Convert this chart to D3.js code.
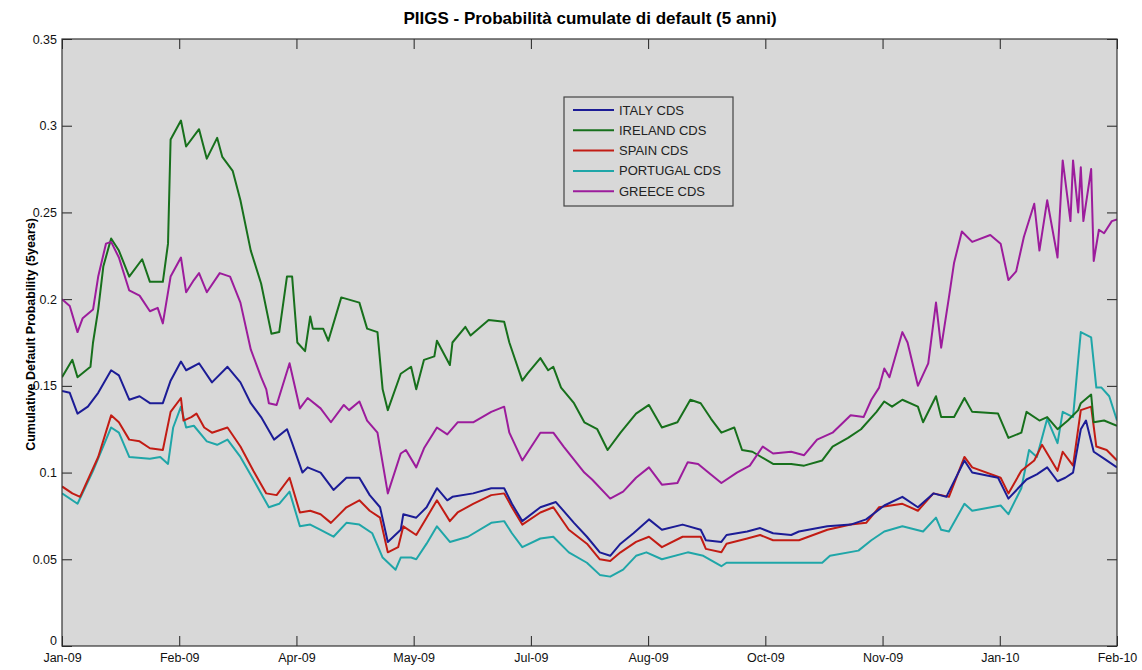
<!DOCTYPE html>
<html>
<head>
<meta charset="utf-8">
<script src="https://cdn.jsdelivr.net/npm/d3@7"></script>
<style>
  body { margin: 0; background: #fff; }
  svg { font-family: "Liberation Sans", Arial, sans-serif; }
</style>
</head>
<body>
<div id="chart"></div>
<script>
// giorni dall'inizio (01/01/2009) e probabilità cumulate
const TICK_LABELS = ["Jan-09", "Feb-09", "Apr-09", "May-09", "Jul-09", "Aug-09", "Oct-09", "Nov-09", "Jan-10", "Feb-10"];
const Y_TICKS = [0, 0.05, 0.1, 0.15, 0.2, 0.25, 0.3, 0.35];
const DAY_MAX = 408;

const ITALY = [[0,0.147],[3,0.146],[6,0.134],[10,0.138],[14,0.146],[19,0.159],[22,0.156],[26,0.142],[30,0.144],[34,0.140],[39,0.140],[42,0.153],[46,0.164],[48,0.159],[53,0.163],[58,0.152],[64,0.161],[69,0.152],[73,0.140],[77,0.132],[82,0.119],[87,0.125],[89,0.117],[93,0.100],[95,0.103],[100,0.100],[105,0.090],[110,0.097],[115,0.097],[119,0.087],[123,0.080],[126,0.060],[131,0.067],[132,0.076],[137,0.074],[141,0.080],[145,0.091],[149,0.084],[151,0.086],[159,0.088],[166,0.091],[171,0.091],[174,0.082],[178,0.072],[185,0.080],[191,0.083],[198,0.071],[203,0.063],[208,0.054],[212,0.052],[216,0.059],[221,0.065],[227,0.073],[232,0.067],[240,0.070],[247,0.067],[249,0.061],[255,0.060],[257,0.064],[265,0.066],[270,0.068],[275,0.065],[282,0.064],[285,0.066],[296,0.069],[305,0.070],[311,0.073],[318,0.081],[325,0.086],[331,0.080],[337,0.088],[342,0.086],[349,0.107],[352,0.100],[362,0.097],[366,0.085],[373,0.096],[377,0.099],[381,0.103],[385,0.095],[388,0.097],[391,0.100],[394,0.125],[396,0.130],[399,0.112],[403,0.108],[408,0.103]];

const IRELAND = [[0,0.155],[4,0.165],[6,0.155],[11,0.161],[12,0.175],[14,0.194],[16,0.219],[19,0.235],[22,0.228],[26,0.213],[31,0.223],[34,0.210],[39,0.210],[41,0.232],[42,0.292],[46,0.303],[48,0.288],[53,0.298],[56,0.281],[60,0.293],[62,0.282],[66,0.274],[69,0.257],[73,0.228],[77,0.209],[81,0.180],[84,0.181],[87,0.213],[89,0.213],[91,0.175],[94,0.170],[96,0.190],[97,0.183],[101,0.183],[103,0.176],[108,0.201],[115,0.198],[118,0.183],[122,0.181],[124,0.148],[126,0.136],[131,0.157],[135,0.161],[137,0.148],[140,0.165],[144,0.167],[145,0.176],[150,0.162],[151,0.175],[156,0.184],[158,0.179],[165,0.188],[171,0.187],[173,0.175],[178,0.153],[180,0.157],[185,0.166],[188,0.159],[190,0.161],[193,0.149],[198,0.140],[202,0.129],[207,0.125],[211,0.113],[216,0.123],[222,0.134],[227,0.139],[232,0.126],[238,0.129],[243,0.142],[247,0.140],[251,0.131],[255,0.123],[260,0.126],[263,0.113],[267,0.112],[275,0.105],[282,0.105],[287,0.104],[294,0.107],[298,0.115],[304,0.120],[309,0.125],[315,0.135],[318,0.141],[321,0.138],[325,0.142],[331,0.138],[333,0.129],[338,0.144],[340,0.132],[345,0.132],[349,0.143],[352,0.135],[362,0.134],[366,0.120],[371,0.123],[373,0.135],[378,0.130],[381,0.132],[385,0.125],[389,0.130],[393,0.136],[394,0.140],[398,0.145],[399,0.129],[403,0.130],[408,0.127]];

const SPAIN = [[0,0.092],[4,0.088],[7,0.086],[14,0.109],[19,0.133],[22,0.129],[26,0.119],[30,0.118],[34,0.114],[39,0.113],[42,0.135],[46,0.143],[47,0.130],[50,0.132],[52,0.134],[55,0.126],[58,0.123],[64,0.126],[69,0.115],[74,0.101],[79,0.088],[83,0.087],[88,0.097],[92,0.077],[96,0.078],[100,0.076],[104,0.071],[110,0.080],[115,0.084],[119,0.078],[123,0.074],[126,0.054],[130,0.057],[132,0.069],[137,0.064],[141,0.074],[145,0.084],[150,0.072],[153,0.077],[159,0.082],[166,0.087],[171,0.088],[174,0.080],[178,0.070],[185,0.077],[190,0.080],[196,0.067],[203,0.059],[208,0.050],[212,0.049],[216,0.054],[222,0.060],[227,0.063],[232,0.057],[240,0.063],[247,0.063],[249,0.056],[255,0.054],[257,0.059],[265,0.062],[270,0.064],[275,0.061],[282,0.061],[285,0.061],[296,0.067],[305,0.070],[311,0.071],[316,0.080],[325,0.082],[331,0.078],[337,0.088],[343,0.086],[349,0.109],[352,0.103],[363,0.097],[366,0.088],[371,0.101],[376,0.107],[379,0.116],[385,0.101],[387,0.112],[391,0.104],[394,0.136],[398,0.138],[400,0.115],[404,0.113],[408,0.107]];

const PORTUGAL = [[0,0.088],[6,0.082],[12,0.101],[19,0.126],[22,0.123],[26,0.109],[34,0.108],[38,0.109],[41,0.105],[43,0.126],[46,0.138],[48,0.126],[51,0.127],[56,0.118],[60,0.116],[64,0.119],[69,0.109],[74,0.096],[80,0.080],[84,0.082],[88,0.089],[92,0.069],[96,0.070],[100,0.067],[105,0.063],[110,0.071],[115,0.070],[120,0.065],[124,0.051],[129,0.044],[131,0.051],[135,0.051],[137,0.050],[141,0.059],[145,0.069],[150,0.060],[157,0.063],[166,0.071],[171,0.072],[174,0.065],[178,0.057],[185,0.062],[190,0.063],[196,0.054],[203,0.048],[208,0.041],[212,0.040],[217,0.044],[222,0.052],[226,0.054],[232,0.050],[242,0.054],[248,0.052],[255,0.046],[257,0.048],[267,0.048],[282,0.048],[294,0.048],[297,0.052],[308,0.055],[313,0.061],[318,0.066],[325,0.069],[333,0.066],[338,0.074],[340,0.067],[343,0.066],[349,0.082],[352,0.078],[363,0.081],[366,0.076],[371,0.091],[374,0.113],[377,0.109],[381,0.131],[385,0.117],[387,0.135],[391,0.132],[393,0.165],[394,0.181],[398,0.178],[400,0.149],[402,0.149],[405,0.144],[408,0.130]];

const GREECE = [[0,0.200],[3,0.196],[6,0.181],[8,0.189],[12,0.194],[14,0.213],[17,0.232],[19,0.233],[22,0.224],[26,0.205],[30,0.202],[34,0.193],[37,0.195],[39,0.186],[42,0.213],[46,0.224],[48,0.204],[51,0.211],[53,0.215],[56,0.204],[61,0.215],[65,0.213],[69,0.198],[73,0.171],[77,0.155],[79,0.148],[80,0.140],[83,0.139],[88,0.163],[92,0.137],[95,0.143],[100,0.137],[104,0.129],[109,0.139],[111,0.136],[115,0.141],[118,0.130],[122,0.123],[126,0.088],[131,0.111],[133,0.113],[137,0.103],[140,0.114],[145,0.126],[149,0.122],[153,0.129],[159,0.129],[166,0.135],[171,0.138],[173,0.123],[178,0.107],[185,0.123],[190,0.123],[194,0.115],[202,0.100],[205,0.096],[212,0.085],[217,0.089],[222,0.097],[227,0.103],[232,0.093],[238,0.094],[242,0.106],[246,0.105],[250,0.100],[255,0.094],[261,0.100],[266,0.104],[271,0.115],[275,0.111],[282,0.112],[287,0.110],[292,0.119],[298,0.123],[305,0.133],[310,0.132],[313,0.142],[316,0.149],[318,0.160],[320,0.155],[325,0.181],[327,0.175],[331,0.150],[335,0.163],[338,0.198],[340,0.172],[343,0.201],[345,0.221],[348,0.239],[352,0.233],[359,0.237],[363,0.232],[366,0.211],[369,0.216],[372,0.236],[376,0.255],[378,0.228],[381,0.257],[385,0.224],[387,0.280],[390,0.245],[391,0.280],[393,0.250],[394,0.276],[395,0.245],[398,0.275],[399,0.222],[401,0.240],[403,0.238],[406,0.245],[408,0.246]];

const SERIES = [
    { nome: "ITALY CDS", valori: ITALY, colore: "#1c1c96" },
    { nome: "IRELAND CDS", valori: IRELAND, colore: "#17701c" },
    { nome: "SPAIN CDS", valori: SPAIN, colore: "#c21c14" },
    { nome: "PORTUGAL CDS", valori: PORTUGAL, colore: "#1fa6a8" },
    { nome: "GREECE CDS", valori: GREECE, colore: "#9c1c9c" }
];
// ordine di disegno (dal basso verso l'alto)
const ORDINE = ["PORTUGAL CDS", "SPAIN CDS", "ITALY CDS", "IRELAND CDS", "GREECE CDS"];

const WIDTH = 1142;
const HEIGHT = 670;
const MARGIN = { top: 39, right: 25, bottom: 24, left: 62 };
const innerW = WIDTH - MARGIN.left - MARGIN.right;
const innerH = HEIGHT - MARGIN.top - MARGIN.bottom;

const svg = d3.select("#chart").append("svg")
    .attr("width", WIDTH)
    .attr("height", HEIGHT);

const x = d3.scaleLinear().domain([0, DAY_MAX]).range([0, innerW]);
const y = d3.scaleLinear().domain([0, 0.35]).range([innerH, 0]);
const xTicks = TICK_LABELS.map((d, i) => i * DAY_MAX / (TICK_LABELS.length - 1));

const g = svg.append("g")
    .attr("transform", `translate(${MARGIN.left},${MARGIN.top})`);

g.append("rect")
    .attr("width", innerW)
    .attr("height", innerH)
    .attr("fill", "#d8d8d8");

// assi stile MATLAB, tick verso l'interno
const TICK = 10;
const assi = [
    { ax: d3.axisBottom(x), t: `translate(0,${innerH})`, v: xTicks, f: (d, i) => TICK_LABELS[i], pad: 7 },
    { ax: d3.axisTop(x), t: "translate(0,0)", v: xTicks, f: () => "", pad: 5 },
    { ax: d3.axisLeft(y), t: "translate(0,0)", v: Y_TICKS, f: d => String(d), pad: 5 },
    { ax: d3.axisRight(y), t: `translate(${innerW},0)`, v: Y_TICKS, f: () => "", pad: 5 }
];
const gruppiAssi = assi.map(a => {
    const ga = g.append("g")
        .attr("transform", a.t)
        .call(a.ax.tickValues(a.v).tickFormat(a.f).tickSizeInner(-TICK).tickSizeOuter(0).tickPadding(a.pad));
    ga.select(".domain").remove();
    ga.selectAll(".tick line").attr("stroke", "#222");
    ga.selectAll("text")
        .attr("font-size", "12.5px")
        .attr("fill", "#111")
        .style("font-family", "'Liberation Sans', Arial, sans-serif");
    return ga;
});
// lo "0" dell'asse y sta un po' sopra l'angolo, come nell'originale
gruppiAssi[2].selectAll(".tick").filter(d => d === 0).select("text").attr("dy", "-0.1em");

const linea = d3.line()
    .x(d => x(d[0]))
    .y(d => y(d[1]));

svg.append("clipPath").attr("id", "clip")
    .append("rect").attr("width", innerW).attr("height", innerH);

g.append("g").attr("clip-path", "url(#clip)")
    .selectAll("path")
    .data(ORDINE.map(n => SERIES.find(s => s.nome === n)))
    .enter()
    .append("path")
    .attr("d", d => linea(d.valori))
    .attr("fill", "none")
    .attr("stroke", d => d.colore)
    .attr("stroke-width", 2)
    .attr("stroke-linejoin", "round");

g.append("rect")
    .attr("width", innerW)
    .attr("height", innerH)
    .attr("fill", "none")
    .attr("stroke", "#333")
    .attr("stroke-width", 1.2);

// legenda
const leg = g.append("g")
    .attr("transform", `translate(${564 - MARGIN.left},${97 - MARGIN.top})`);

leg.append("rect")
    .attr("width", 169)
    .attr("height", 109)
    .attr("fill", "#d8d8d8")
    .attr("stroke", "#444")
    .attr("stroke-width", 1.2);

const righe = leg.selectAll(".riga")
    .data(SERIES)
    .enter()
    .append("g")
    .attr("transform", (d, i) => `translate(0,${13 + i * 20.3})`);

righe.append("line")
    .attr("x1", 9).attr("x2", 50)
    .attr("stroke", d => d.colore)
    .attr("stroke-width", 2);

righe.append("text")
    .attr("x", 55)
    .attr("dy", "0.35em")
    .attr("font-size", "13px")
    .attr("fill", "#222")
    .text(d => d.nome);

// titoli
svg.append("text")
    .attr("x", 590)
    .attr("y", 24)
    .attr("text-anchor", "middle")
    .attr("font-size", "17px")
    .attr("font-weight", "bold")
    .text("PIIGS - Probabilità cumulate di default (5 anni)");

svg.append("text")
    .attr("transform", `translate(35,${MARGIN.top + innerH / 2 - 8}) rotate(-90)`)
    .attr("text-anchor", "middle")
    .attr("font-size", "12.5px")
    .attr("font-weight", "bold")
    .text("Cumulative Default Probability (5years)");
</script>
</body>
</html>
